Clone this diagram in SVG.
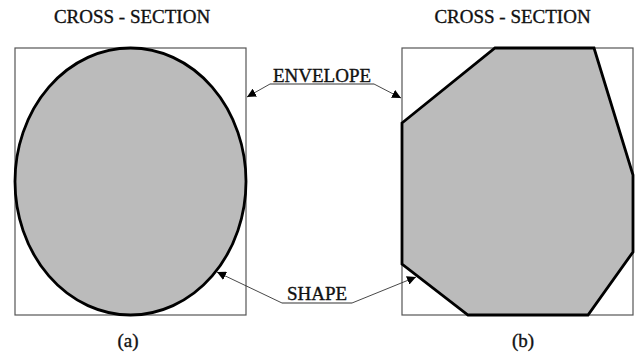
<svg xmlns="http://www.w3.org/2000/svg" width="639" height="358" viewBox="0 0 639 358">
<defs>
<marker id="ah" viewBox="0 0 10 10" refX="10" refY="5" markerWidth="9" markerHeight="9" markerUnits="userSpaceOnUse" orient="auto">
<path d="M0,0 L10,5 L0,10 Z" fill="#000"/>
</marker>
</defs>
<style>
.t{font-family:"Liberation Serif","Times New Roman",serif;font-size:19px;fill:#111;stroke:#111;stroke-width:0.35;text-anchor:middle}
.env{fill:none;stroke:#555;stroke-width:1.2}
.shape{fill:#bbbbbb;stroke:#000;stroke-width:2.8;stroke-linejoin:miter}
.lead{fill:none;stroke:#333;stroke-width:0.9}
.ul{stroke:#333;stroke-width:1.2}
</style>
<rect width="639" height="358" fill="#fff"/>
<g id="panel-a">
<text class="t" x="132" y="23">CROSS - SECTION</text>
<rect class="env" x="15" y="48" width="231" height="267"/>
<ellipse class="shape" cx="130.5" cy="181.5" rx="115.5" ry="133.5"/>
<text class="t" x="128" y="347">(a)</text>
</g>
<g id="panel-b">
<text class="t" x="512.5" y="23">CROSS - SECTION</text>
<rect class="env" x="402" y="48" width="231" height="267"/>
<polygon class="shape" points="402,123 495,48 594,48 633,175 633,252 588,315 468,315 402,264"/>
<text class="t" x="523" y="347">(b)</text>
</g>
<g id="label-envelope">
<text class="t" x="322" y="81.5">ENVELOPE</text>
<line class="ul" x1="270" y1="84" x2="374" y2="84"/>
</g>
<g id="label-shape">
<text class="t" x="317" y="299.5">SHAPE</text>
<line class="ul" x1="282" y1="303" x2="352" y2="303"/>
</g>
<g id="connectors">
<polyline class="lead" points="270,84 247,97" marker-end="url(#ah)"/>
<polyline class="lead" points="374,84 401,98" marker-end="url(#ah)"/>
<polyline class="lead" points="282,303 217,272" marker-end="url(#ah)"/>
<polyline class="lead" points="352,303 416,277" marker-end="url(#ah)"/>
</g>
</svg>
